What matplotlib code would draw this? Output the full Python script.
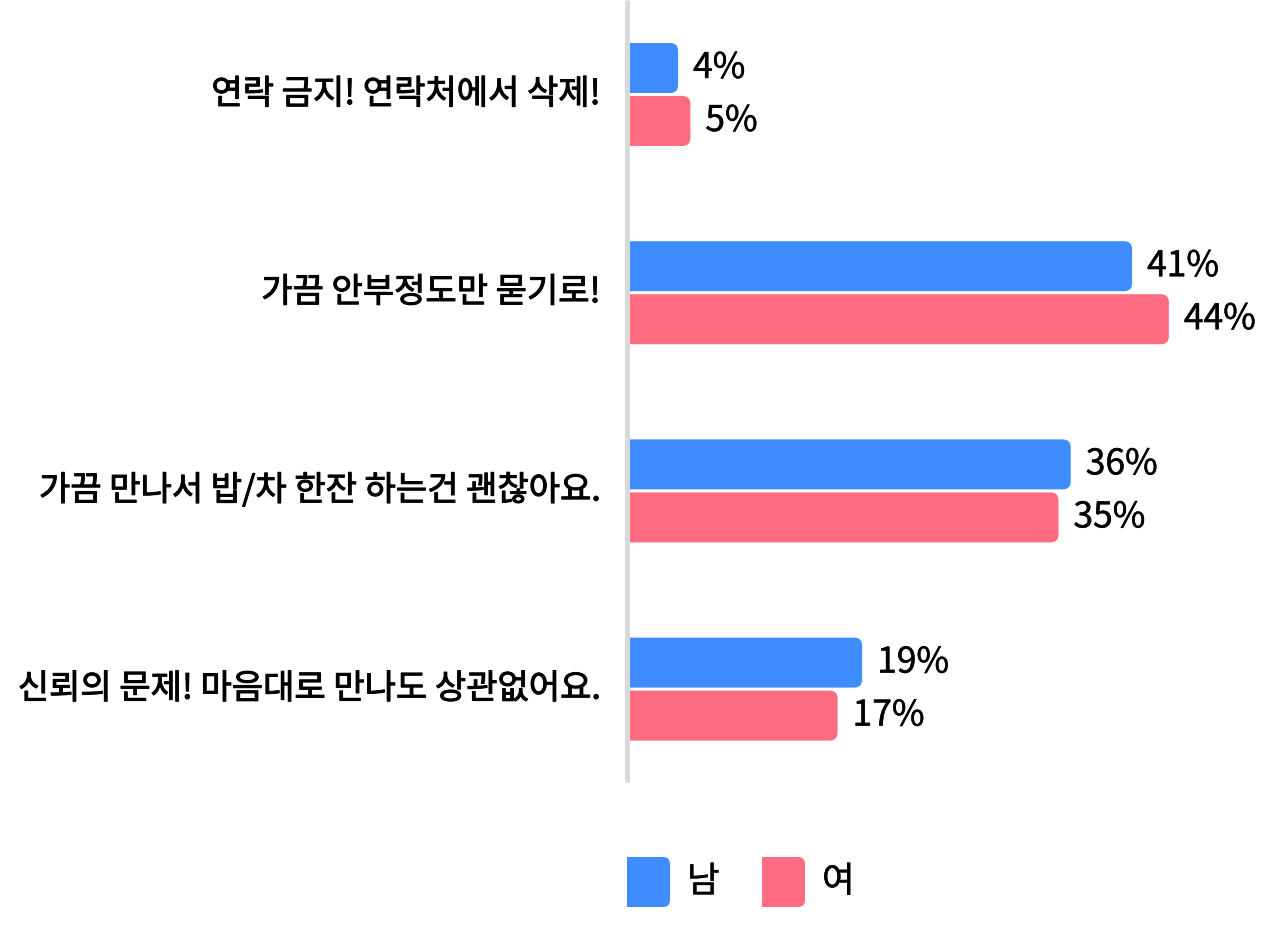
import matplotlib.pyplot as plt
import matplotlib.patheffects as pe
from matplotlib.patches import FancyBboxPatch
from matplotlib.lines import Line2D

plt.rcParams['font.family'] = ['Noto Sans CJK KR', 'DejaVu Sans']

# data
categories = [
    "연락 금지! 연락처에서 삭제!",
    "가끔 안부정도만 묻기로!",
    "가끔 만나서 밥/차 한잔 하는건 괜찮아요.",
    "신뢰의 문제! 마음대로 만나도 상관없어요.",
]
male = [4, 41, 36, 19]
female = [5, 44, 35, 17]
series_names = ["남", "여"]
colors = ["#3F8CFF", "#FF6B81"]

W, H = 1280, 925
fig = plt.figure(figsize=(W / 100, H / 100), dpi=100)

# slightly heavier than regular, like a medium weight
medium = [pe.withStroke(linewidth=0.7, foreground="black")]
light = [pe.withStroke(linewidth=0.3, foreground="black")]

# axes placed in pixels
ax_left, ax_top, ax_bottom = 629, 0, 782
px_per_unit = 12.27
ax = fig.add_axes([ax_left / W, (H - ax_bottom) / H, (W - ax_left) / W, (ax_bottom - ax_top) / H])
ax.set_xlim(0, (W - ax_left) / px_per_unit)
step = 198.2
ax.set_ylim((ax_bottom - 94.5) / step, -94.5 / step)
ax.axis("off")

bar_h = 50 / step
offset = 26.5 / step
r = 8 / px_per_unit
aspect = (8 / step) / r

for i, cat in enumerate(categories):
    for j, vals in enumerate([male, female]):
        v = vals[i]
        yc = i + (-offset if j == 0 else offset)
        p = FancyBboxPatch((-r * 2, yc - bar_h / 2), v + r * 2, bar_h,
                           boxstyle=f"round,pad=0,rounding_size={r}",
                           mutation_aspect=aspect, facecolor=colors[j],
                           edgecolor="none", clip_on=True)
        ax.add_patch(p)
        ax.text(v + 15 / px_per_unit, yc, f"{v}%", va="center", ha="left",
                fontsize=25.5, color="black", path_effects=light)
    ax.text(-29 / px_per_unit, i, cat, va="center", ha="right", fontsize=24.5,
            color="black", clip_on=False, path_effects=medium)

# grey axis line
fig.add_artist(Line2D([626.5 / W, 626.5 / W], [1, (H - 782) / H],
                      color="#d9d9d9", lw=3.6, solid_capstyle="butt"))

# legend
leg_x = [627, 762]
for k, name in enumerate(series_names):
    x0 = leg_x[k]
    lax = fig.add_axes([x0 / W, (H - 907) / H, 43 / W, 50 / H])
    lax.set_xlim(0, 43)
    lax.set_ylim(0, 50)
    lax.axis("off")
    lax.add_patch(FancyBboxPatch((-10, 0), 53, 50,
                                 boxstyle="round,pad=0,rounding_size=7",
                                 facecolor=colors[k], edgecolor="none", clip_on=True))
    fig.text((x0 + 60) / W, (H - 882) / H, name, va="center", ha="left",
             fontsize=25.5, path_effects=light)

fig.savefig("out.png", dpi=100, facecolor="white")
